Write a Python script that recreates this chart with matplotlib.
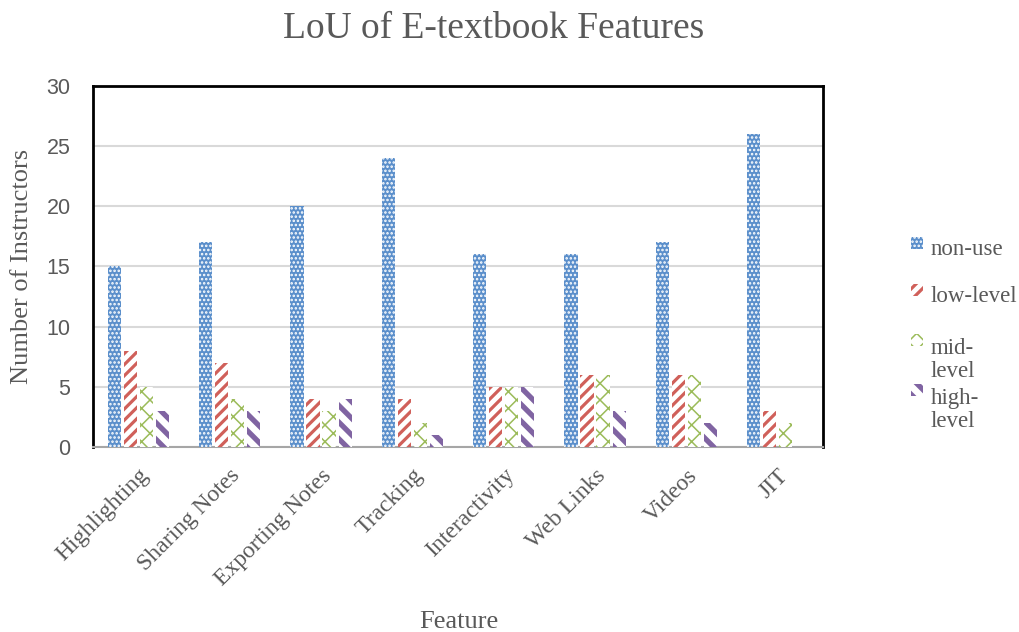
import numpy as np
import matplotlib.pyplot as plt
from matplotlib.patches import Rectangle

# data
features = ['Highlighting', 'Sharing Notes', 'Exporting Notes', 'Tracking',
            'Interactivity', 'Web Links', 'Videos', 'JIT']
non_use = [15, 17, 20, 24, 16, 16, 17, 26]
low_level = [8, 7, 4, 4, 5, 6, 6, 3]
mid_level = [5, 4, 3, 2, 5, 6, 6, 2]
high_level = [3, 3, 4, 1, 5, 3, 2, 0]
series_labels = ['non-use', 'low-level', 'mid-\nlevel', 'high-\nlevel']

serif = 'Liberation Serif'
grey = '#595959'
W, H = 1019, 632

fig = plt.figure(figsize=(10.19, 6.32), dpi=100)
ax = fig.add_axes([0.091, 0.293, 0.717, 0.571])

x = np.arange(len(features))
pitch = 0.176
w = 0.145

# (values, face, hatch colour, hatch, hatch linewidth)
styles = [
    (non_use, '#5B8FCB', 'white', '....', 1.2),
    (low_level, 'white', '#D0605A', '///', 2.3),
    (mid_level, 'white', '#9BBB59', 'xx', 1.1),
    (high_level, 'white', '#8064A2', '\\\\', 3.8),
]
for i, (vals, fc, ec, h, hlw) in enumerate(styles):
    with plt.rc_context({'hatch.linewidth': hlw}):
        ax.bar(x + (i - 1.5) * pitch, vals, w, color=fc, edgecolor=ec,
               hatch=h, linewidth=0, zorder=3)

ax.set_xlim(-0.5, len(features) - 0.5)
ax.set_ylim(0, 30)
ax.set_yticks(range(0, 31, 5))
ax.yaxis.grid(True, color='#D9D9D9', linewidth=1.5, zorder=0)
ax.set_axisbelow(True)
ax.tick_params(axis='both', length=0, colors=grey)
ax.tick_params(axis='y', pad=16, labelsize=15.5)
for lab in ax.get_yticklabels():
    lab.set_family('Liberation Sans')

ax.set_xticks(x)
ax.set_xticklabels(features, rotation=45, ha='right', rotation_mode='anchor',
                   family=serif, fontsize=17, color=grey)
ax.tick_params(axis='x', pad=13)

for s in ['left', 'top', 'right']:
    ax.spines[s].set_color('black')
    ax.spines[s].set_linewidth(2)
ax.spines['bottom'].set_color('#A6A6A6')
ax.spines['bottom'].set_linewidth(1.5)

fig.text(22 / W, 1 - 266 / H, 'Number of Instructors', family=serif,
         fontsize=19, color=grey, rotation=90, ha='center', va='center')
fig.text(459 / W, 1 - 628 / H, 'Feature', family=serif, fontsize=19,
         color=grey, ha='center', va='baseline')
fig.text(494 / W, 1 - 38 / H, 'LoU of E-textbook Features', family=serif,
         fontsize=27, color=grey, ha='center', va='baseline')

# legend drawn by hand: Excel wraps the long labels and keeps the key by the first line
key_baselines = [255, 302, 352, 402]    # first text line of each entry
text_baselines = [255, 302, 377, 427]   # last text line of each entry
for (vals, fc, ec, h, hlw), lab, kb, tb in zip(styles, series_labels,
                                               key_baselines, text_baselines):
    with plt.rc_context({'hatch.linewidth': hlw}):
        fig.patches.append(Rectangle((911 / W, 1 - (kb - 6) / H), 12 / W, 12 / H,
                                     transform=fig.transFigure, facecolor=fc,
                                     edgecolor=ec, hatch=h, linewidth=0))
    fig.text(931 / W, 1 - tb / H, lab, family=serif, fontsize=16.5, color=grey,
             ha='left', va='baseline', linespacing=1.1)

fig.savefig('out.png', dpi=100)
